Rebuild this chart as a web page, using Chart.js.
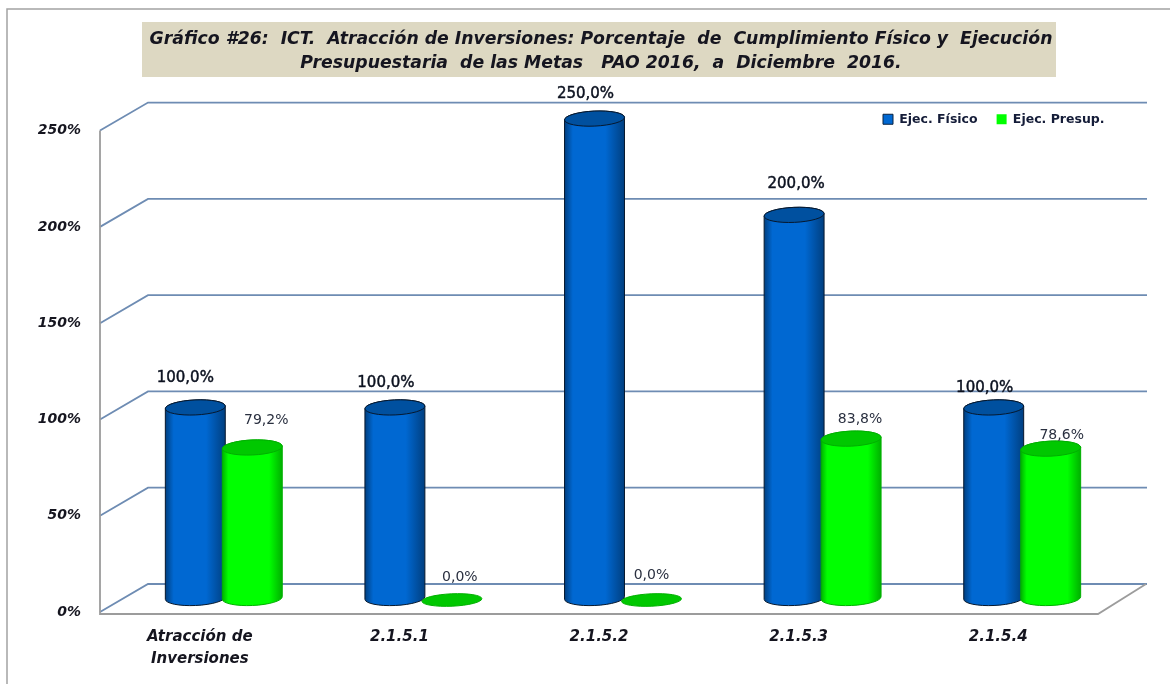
<!DOCTYPE html>
<html><head><meta charset="utf-8">
<style>html,body{margin:0;padding:0;background:#fff;overflow:hidden}canvas{display:block;filter:blur(0.35px)}</style>
<script src="https://cdn.jsdelivr.net/npm/chart.js@4"></script>
</head><body><canvas id="c" width="1170" height="684"></canvas>
<script>
const titleLines = ["Gráfico #26:  ICT.  Atracción de Inversiones: Porcentaje  de  Cumplimiento Físico y  Ejecución","Presupuestaria  de las Metas   PAO 2016,  a  Diciembre  2016."];
const categories = [["Atracción de","Inversiones"],"2.1.5.1","2.1.5.2","2.1.5.3","2.1.5.4"];
const ejecFisico = [100,100,250,200,100];
const ejecPresup = [79.2,0,0,83.8,78.6];
const seriesNames = ["Ejec. Físico","Ejec. Presup."];
const yTickStep = 50, yMax = 250;
const labelShift = [[[14,-41],[15,-36],[15,-36],[26,-43],[15,-31]],[[38,-39],[32,-35],[24,-37],[33,-31],[35,-25]]];

const DEPTH_X = 48, DEPTH_Y = 28, CYL_DX = 24, CYL_TOP = 12, CYL_BASE = 14, RX = 30, RY = 7.5, TILT = -0.045;
const palette = [
  {edge:'#003f80',mid:'#0068d2',top:'#00509f',line:'#06182e',a:.14,b:.68},
  {edge:'#00b000',mid:'#00ff00',top:'#00c800',line:'#00b000',a:.1,b:.78}
];
function cylinder(ctx,x,yTop,yBase,p){
  if(yBase-yTop>1){
    const g=ctx.createLinearGradient(x-RX,0,x+RX,0);
    g.addColorStop(0,p.edge);g.addColorStop(p.a,p.mid);g.addColorStop(p.b,p.mid);g.addColorStop(1,p.edge);
    ctx.beginPath();
    ctx.ellipse(x,yBase,RX,RY,TILT,0,Math.PI);
    ctx.ellipse(x,yTop,RX,RY,TILT,Math.PI,2*Math.PI);
    ctx.closePath();
    ctx.fillStyle=g;ctx.fill();
    ctx.strokeStyle=p.line;ctx.lineWidth=1;ctx.stroke();
  }
  ctx.beginPath();ctx.ellipse(x,yTop,RX,yBase-yTop>1?RY:6.2,TILT,0,2*Math.PI);
  ctx.fillStyle=p.top;ctx.fill();
  ctx.strokeStyle=p.line;ctx.lineWidth=1;ctx.stroke();
}
const scene = {
  id:'scene',
  afterLayout(chart){
    const t=chart.titleBlock; t.left=142; t.right=1060;
    const l=chart.legend, w=l.right-l.left; l.left=864; l.right=864+w; l.top=94; l.bottom=140;
  },
  beforeDraw(chart){
    const c=chart.ctx,a=chart.chartArea,y=chart.scales.y;
    c.save();
    c.strokeStyle='#a3a3a3';c.lineWidth=1.5;
    c.beginPath();c.moveTo(7,684);c.lineTo(7,9);c.lineTo(1170,9);c.stroke();
    c.fillStyle='#ddd8c2';c.fillRect(142,22,914,55);
    c.strokeStyle='#6e8cb3';c.lineWidth=1.8;
    y.ticks.forEach(t=>{
      const py=y.getPixelForValue(t.value);
      c.beginPath();c.moveTo(a.left,py);c.lineTo(a.left+DEPTH_X,py-DEPTH_Y);c.lineTo(a.right+DEPTH_X+1,py-DEPTH_Y);c.stroke();
    });
    c.strokeStyle='#9c9c9c';c.lineWidth=1.8;
    c.beginPath();c.moveTo(a.left,a.top);c.lineTo(a.left,a.bottom+2);c.lineTo(a.right,a.bottom+2);c.lineTo(a.right+DEPTH_X,a.bottom-DEPTH_Y);c.stroke();
    c.restore();
  },
  beforeDatasetsDraw(chart){
    const c=chart.ctx;
    c.save();
    [0,1].forEach(ds=>{
      chart.getDatasetMeta(ds).data.forEach(el=>{
        cylinder(c,el.x+CYL_DX,el.y-CYL_TOP,el.base-CYL_BASE,palette[ds]);
      });
    });
    c.textAlign='center';c.textBaseline='middle';
    [0,1].forEach(ds=>{
      const d=chart.data.datasets[ds].data;
      chart.getDatasetMeta(ds).data.forEach((el,i)=>{
        const s=labelShift[ds][i], txt=d[i].toFixed(1).replace('.',',')+'%';
        c.font=(ds===0?'15px':'14px')+' "DejaVu Sans"';
        c.fillStyle=ds===0?'#0c1220':'#2a3040';
        c.fillText(txt,el.x+s[0],el.y+s[1]);
        if(ds===0){c.strokeStyle='#0c1220';c.lineWidth=.45;c.strokeText(txt,el.x+s[0],el.y+s[1]);}
      });
    });
    c.restore();
    return false;
  }
};
const ff='"DejaVu Sans"';
new Chart(document.getElementById('c'),{
  type:'bar',
  data:{labels:categories,datasets:[
    {label:seriesNames[0],data:ejecFisico,backgroundColor:'#0068d2',borderColor:'#0a2340',borderWidth:1},
    {label:seriesNames[1],data:ejecPresup,backgroundColor:'#00ff00',borderColor:'#00ff00',borderWidth:0}
  ]},
  options:{
    responsive:false,animation:false,
    layout:{padding:{top:27,left:0,right:72,bottom:0}},
    datasets:{bar:{categoryPercentage:0.571,barPercentage:1}},
    plugins:{
      title:{display:true,text:titleLines,color:'#15151f',font:{family:ff,size:17.3,weight:'bold',style:'italic',lineHeight:1.39},padding:{top:0,bottom:14}},
      legend:{display:true,position:'top',align:'start',labels:{boxWidth:10,boxHeight:10,padding:19,color:'#141c38',font:{family:ff,size:12.5,weight:'bold'}}},
      tooltip:{enabled:false}
    },
    scales:{
      x:{grid:{display:false},border:{display:false},
        ticks:{color:'#15151f',padding:6,maxRotation:0,font:{family:ff,size:15,weight:'bold',style:'italic',lineHeight:1.45}},
        afterFit(s){s.height=72;}},
      y:{min:0,max:yMax,grid:{display:false,drawTicks:false},border:{display:false},
        ticks:{stepSize:yTickStep,color:'#15151f',padding:19,font:{family:ff,size:14,weight:'bold',style:'italic'},callback:v=>v+'%'},
        afterFit(s){s.width=100;}}
    }
  },
  plugins:[scene]
});
</script></body></html>
